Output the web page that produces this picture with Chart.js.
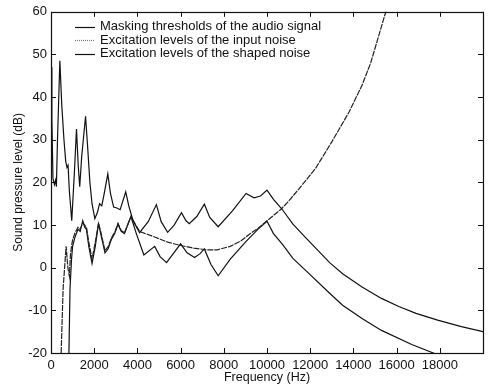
<!DOCTYPE html>
<html>
<head>
<meta charset="utf-8">
<script src="https://cdn.jsdelivr.net/npm/chart.js@4/dist/chart.umd.min.js"></script>
<style>
  html, body { margin: 0; padding: 0; background: #fff; }
  #wrap { width: 488px; height: 391px; }
</style>
</head>
<body>
<div id="wrap"><canvas id="chart" width="488" height="391"></canvas></div>
<script>
// Masking thresholds of the audio signal
const maskFreq = [0, 40, 90, 160, 210, 250, 300, 360, 410, 500, 600, 680, 740, 790, 850, 960, 1080, 1180, 1260, 1330, 1420, 1600, 1700, 1800, 1900, 2030, 2150, 2250, 2350, 2450, 2630, 2750, 2900, 3050, 3200, 3460, 3600, 3800, 4100, 4500, 4880, 5100, 5400, 5700, 6040, 6250, 6400, 6750, 7100, 7350, 7740, 8400, 9030, 9400, 9700, 10000, 10300, 10700, 11200, 11800, 12900, 13500, 14400, 15300, 16100, 16900, 17900, 19000, 20000];
const maskLevel = [47, 35, 21, 19.5, 20.5, 19, 30, 40, 48.5, 38, 30, 25, 23.5, 24, 18, 11, 22, 32.5, 24, 19, 26, 35.5, 28, 20, 15, 11.5, 13, 15, 14.5, 17, 22, 17.5, 14.2, 14, 13.6, 17.8, 14.5, 11, 8.2, 10.8, 14.8, 10.8, 8.3, 10, 12.9, 11, 10.3, 12, 14.9, 11.8, 9.6, 13.3, 17.4, 16.4, 16.8, 18.2, 16, 13.7, 10.2, 7, 1.2, -1.4, -4.5, -7.2, -9.1, -10.7, -12.3, -13.8, -15];

// Excitation levels of the input noise
const inputFreq = [470, 560, 700, 780, 850, 900, 950, 1000, 1100, 1250, 1350, 1470, 1560, 1640, 1750, 1900, 2050, 2200, 2300, 2500, 2650, 2800, 2950, 3100, 3250, 3400, 3700, 4100, 4800, 5400, 6000, 6600, 7200, 7700, 8300, 8800, 9200, 9600, 10000, 10650, 11000, 11500, 12250, 13000, 13800, 14400, 14800, 15500, 16000];
const inputLevel = [-20, -5, 5, 0, -2, 3, 5, 6.5, 8, 9.5, 9, 10.5, 10, 9.5, 6, 2, 6, 10.5, 8.5, 4, 5, 7, 8.3, 10.4, 8.7, 8.2, 12, 8.5, 7.2, 6, 5.2, 4.6, 4.2, 4.2, 5, 6.3, 7.9, 9.3, 11, 13.7, 15.6, 18.6, 23.3, 29.5, 36.5, 42.8, 48, 60, 68];

// Excitation levels of the shaped noise
const shapedFreq = [830, 880, 950, 1000, 1100, 1250, 1350, 1470, 1560, 1640, 1750, 1900, 2050, 2200, 2300, 2500, 2650, 2800, 2950, 3100, 3250, 3400, 3700, 3950, 4300, 4800, 5050, 5350, 6000, 6300, 6650, 6900, 7100, 7400, 7740, 8300, 9000, 9600, 10000, 10300, 10700, 11200, 11800, 12900, 13500, 14400, 15300, 16700, 17700, 18500];
const shapedLevel = [-20, -5, 2, 5, 7, 9, 8.5, 11, 9.5, 9, 5, 1, 5, 10.3, 8, 3.5, 4.5, 6.7, 8, 10.2, 8.5, 8, 12, 8, 3, 5, 2.6, 1.2, 5.6, 3.5, 2.4, 3.3, 4.4, 0.8, -1.9, 2, 6, 9.1, 10.9, 8, 5.6, 2.2, -0.7, -6, -8.8, -11.9, -14.7, -18, -20, -21.5];

const xTicks = [0, 2000, 4000, 6000, 8000, 10000, 12000, 14000, 16000, 18000, 20000];
const yTicks = [-20, -10, 0, 10, 20, 30, 40, 50, 60];

const seriesNames = [
  'Masking thresholds of the audio signal',
  'Excitation levels of the input noise',
  'Excitation levels of the shaped noise'
];

const FONT = '"Liberation Sans", Arial, Helvetica, sans-serif';
const NARROW = '"Liberation Sans Narrow", "Arial Narrow", "Liberation Sans", Arial, sans-serif';

function toPoints(xs, ys) {
  return xs.map((x, i) => ({ x: x, y: ys[i] }));
}

// frame, inward ticks and the legend box drawn inside the plot
const framePlugin = {
  id: 'frame',
  afterDraw(chart) {
    const ctx = chart.ctx;
    const a = chart.chartArea;
    const xs = chart.scales.x;
    const ys = chart.scales.y;
    const tl = 5;
    ctx.save();
    ctx.strokeStyle = '#111';
    ctx.lineWidth = 1.2;
    ctx.setLineDash([]);
    ctx.strokeRect(Math.round(a.left) + 0.5, Math.round(a.top) + 0.5,
      Math.round(a.right - a.left), Math.round(a.bottom - a.top));
    ctx.lineWidth = 1;
    ctx.beginPath();
    xTicks.forEach(v => {
      const px = Math.round(xs.getPixelForValue(v)) + 0.5;
      ctx.moveTo(px, a.bottom); ctx.lineTo(px, a.bottom - tl);
      ctx.moveTo(px, a.top); ctx.lineTo(px, a.top + tl);
    });
    yTicks.forEach(v => {
      const py = Math.round(ys.getPixelForValue(v)) + 0.5;
      ctx.moveTo(a.left, py); ctx.lineTo(a.left + tl, py);
      ctx.moveTo(a.right, py); ctx.lineTo(a.right - tl, py);
    });
    ctx.stroke();

    // legend
    ctx.font = '13px ' + FONT;
    ctx.textBaseline = 'middle';
    ctx.fillStyle = '#111';
    const lx = a.left + 24;
    const rows = [26.5, 40, 53.5];
    chart.data.datasets.forEach((ds, i) => {
      const y = rows[i];
      ctx.beginPath();
      ctx.lineWidth = 1.2;
      ctx.strokeStyle = i === 1 ? '#777' : '#111';
      ctx.setLineDash(i === 1 ? [1, 1] : []);
      ctx.moveTo(lx, Math.round(y) + 0.5);
      ctx.lineTo(lx + 20, Math.round(y) + 0.5);
      ctx.stroke();
      ctx.setLineDash([]);
      ctx.fillText(seriesNames[i], lx + 25, y);
    });
    ctx.restore();
  }
};

new Chart(document.getElementById('chart'), {
  type: 'line',
  data: {
    datasets: [
      {
        label: seriesNames[0],
        data: toPoints(maskFreq, maskLevel),
        borderColor: '#111',
        borderWidth: 1.2,
        pointRadius: 0,
        tension: 0
      },
      {
        label: seriesNames[1],
        data: toPoints(inputFreq, inputLevel),
        borderColor: '#222',
        borderWidth: 1.2,
        borderDash: [6, 1],
        pointRadius: 0,
        tension: 0
      },
      {
        label: seriesNames[2],
        data: toPoints(shapedFreq, shapedLevel),
        borderColor: '#111',
        borderWidth: 1.2,
        pointRadius: 0,
        tension: 0
      }
    ]
  },
  options: {
    responsive: false,
    animation: false,
    layout: { padding: { top: 9, right: 3, bottom: 6, left: 0 } },
    plugins: {
      legend: { display: false },
      tooltip: { enabled: false }
    },
    scales: {
      x: {
        type: 'linear',
        min: 0,
        max: 20000,
        afterBuildTicks: scale => { scale.ticks = xTicks.map(v => ({ value: v })); },
        afterFit: scale => { scale.height = 32; },
        grid: { display: false, drawTicks: false },
        border: { display: false },
        ticks: {
          autoSkip: false,
          maxRotation: 0,
          padding: 5,
          color: '#111',
          font: { family: NARROW, size: 13 },
          callback: v => (v === 20000 ? '' : String(v))
        },
        title: {
          display: true,
          text: 'Frequency (Hz)',
          color: '#111',
          font: { family: FONT, size: 12.5 },
          padding: { top: 0, bottom: 0 }
        }
      },
      y: {
        min: -20,
        max: 60,
        afterBuildTicks: scale => { scale.ticks = yTicks.map(v => ({ value: v })); },
        afterFit: scale => { scale.width = 51; },
        grid: { display: false, drawTicks: false },
        border: { display: false },
        ticks: {
          padding: 4,
          color: '#111',
          font: { family: NARROW, size: 13 }
        },
        title: {
          display: true,
          text: 'Sound pressure level (dB)',
          color: '#111',
          font: { family: FONT, size: 12 },
          padding: { top: 11, bottom: 0 }
        }
      }
    }
  },
  plugins: [framePlugin]
});
</script>
</body>
</html>
